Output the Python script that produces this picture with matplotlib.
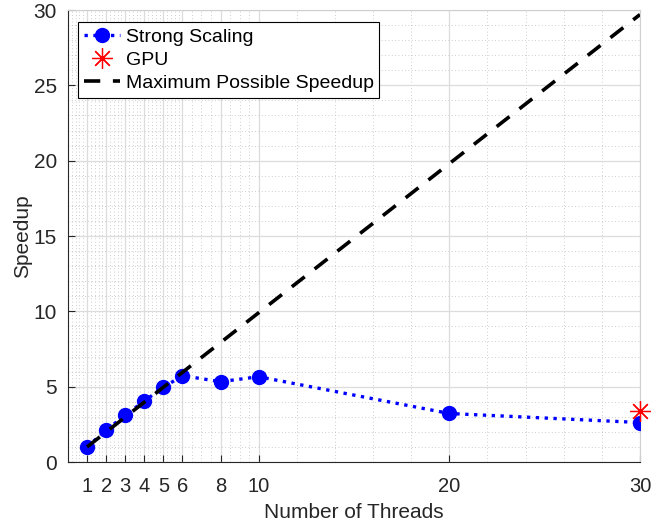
import matplotlib
matplotlib.use("Agg")
import matplotlib.pyplot as plt
import numpy as np

plt.rcParams['font.family'] = ['Liberation Sans', 'DejaVu Sans']

threads = [1, 2, 3, 4, 5, 6, 8, 10, 20, 30]
speedup = [1.0, 2.12, 3.1, 4.05, 4.95, 5.73, 5.33, 5.66, 3.22, 2.62]
gpu_x = [30]
gpu_y = [3.4]
ideal_x = [1, 30]
ideal_y = [1, 29.7]
xticks = [1, 2, 3, 4, 5, 6, 8, 10, 20, 30]
yticks = [0, 5, 10, 15, 20, 25, 30]

fig = plt.figure(figsize=(6.71, 5.23), dpi=100)
ax = fig.add_axes([68/671, (523-462)/523, 572/671, 452/523])

minor_x = list(np.arange(0, 6, 0.2)) + list(np.arange(6, 10, 0.5)) + list(np.arange(10, 30, 2))
minor_x = [v for v in minor_x if not np.isclose(v, xticks).any()]
ax.set_xticks(xticks)
ax.set_yticks(yticks)
ax.set_xticks(minor_x, minor=True)
ax.set_yticks(np.arange(0, 31, 1), minor=True)
ax.grid(True, which='major', color='#dcdcdc', linewidth=0.9, linestyle='-')
ax.grid(True, which='minor', color='#bdbdbd', linewidth=0.6, linestyle=(0, (1, 3)))
ax.set_axisbelow(True)

ax.plot(threads, speedup, color='#0000ff', linestyle=':', linewidth=2.4,
        marker='o', markersize=10, label='Strong Scaling', zorder=3)
ax.plot(ideal_x, ideal_y, color='black', linestyle=(0, (4.5, 3.5)), linewidth=2.6,
        label='Maximum Possible Speedup', zorder=4)
ax.plot(gpu_x, gpu_y, color='#ff0000', linestyle='none', marker=(8, 2, 0),
        markersize=15, markeredgewidth=0.9, label='GPU', zorder=5, clip_on=False)

ax.set_xlim(0, 30)
ax.set_ylim(0, 30)

ax.tick_params(which='both', direction='in', colors='#262626')
ax.tick_params(which='minor', length=0)
ax.tick_params(which='major', length=5, width=0.8)
ax.tick_params(axis='x', which='major', pad=11, labelsize=14.5)
ax.tick_params(axis='y', which='major', pad=8, labelsize=15)
for s in ['left', 'bottom']:
    ax.spines[s].set_color('#262626')
    ax.spines[s].set_linewidth(0.8)
for s in ['top', 'right']:
    ax.spines[s].set_color('#cfcfcf')
    ax.spines[s].set_linewidth(0.8)

ax.set_xlabel('Number of Threads', fontsize=15, color='#262626', labelpad=5)
ax.set_ylabel('Speedup', fontsize=15, color='#262626', labelpad=1)

h, l = ax.get_legend_handles_labels()
order = [0, 2, 1]
leg = ax.legend([h[i] for i in order], [l[i] for i in order], loc='upper left',
                bbox_to_anchor=(0.0175, 0.973), fontsize=14, frameon=True, fancybox=False,
                edgecolor='black', framealpha=1, borderpad=0.3, labelspacing=0.28,
                handlelength=1.85, handletextpad=0.3, borderaxespad=0)
leg.get_frame().set_linewidth(0.8)

fig.savefig('out.png', dpi=100)
